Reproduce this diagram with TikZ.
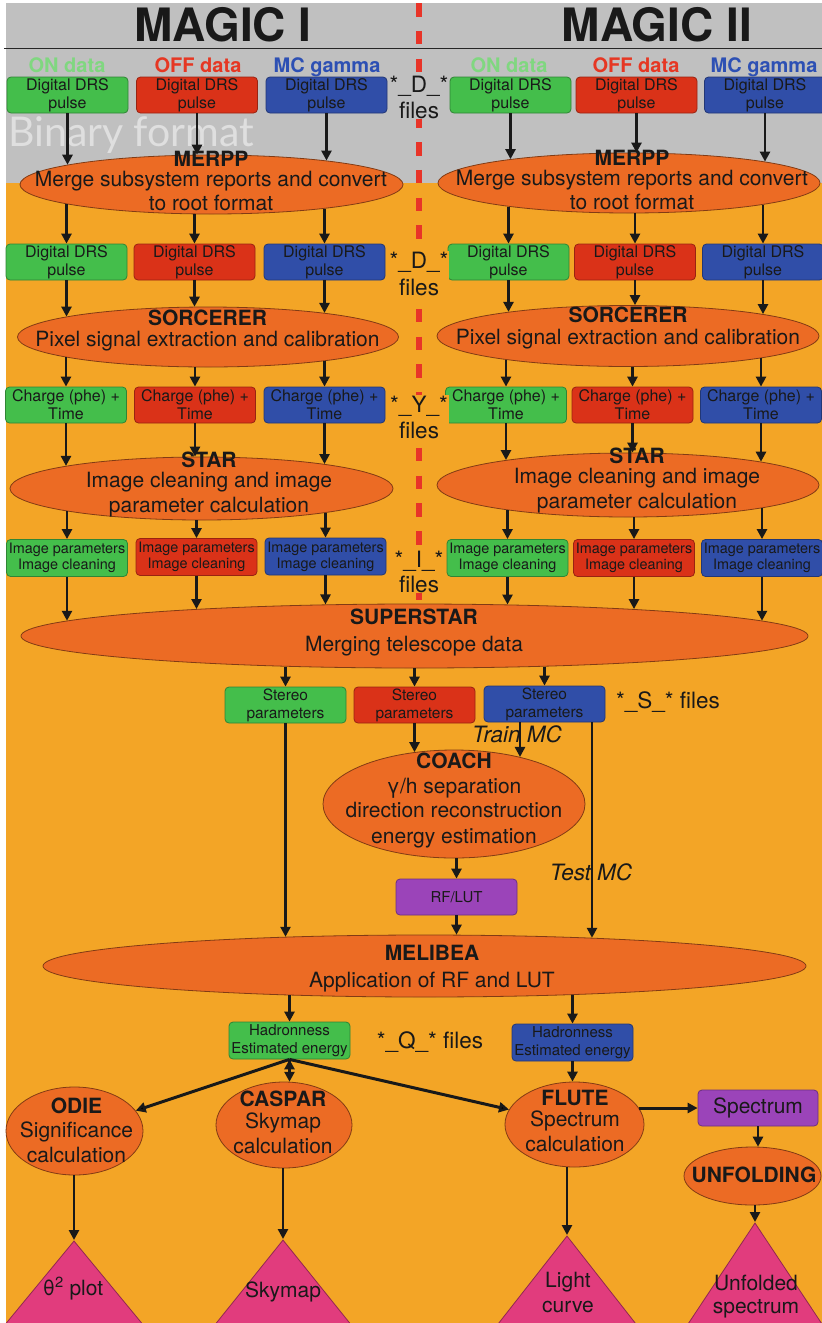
\documentclass[tikz,border=0pt]{standalone}
\usepackage{fontspec}
\setmainfont{TeX Gyre Heros}
\newfontfamily\binfont{Lato}
\usetikzlibrary{positioning,shapes.geometric,arrows.meta,calc}

\definecolor{bggray}{RGB}{192,192,192}
\definecolor{bgorange}{RGB}{243,165,38}
\definecolor{procorange}{RGB}{236,107,36}
\definecolor{ongreen}{RGB}{68,190,75}
\definecolor{offred}{RGB}{218,50,24}
\definecolor{mcblue}{RGB}{48,78,168}
\definecolor{rfpurple}{RGB}{155,68,185}
\definecolor{respink}{RGB}{225,60,125}
\definecolor{onlight}{RGB}{128,215,128}
\definecolor{offhead}{RGB}{230,55,35}
\definecolor{mchead}{RGB}{45,80,180}
\definecolor{magicred}{RGB}{232,52,40}

\tikzset{box/.style={rectangle,rounded corners=4pt,draw,line width=0.8pt,minimum width=121pt,minimum height=36pt,inner sep=0pt,align=center,text=black!90,font=\fontsize{16}{18}\selectfont},
on box/.style={box,fill=ongreen,draw=ongreen!70!black},
off box/.style={box,fill=offred,draw=offred!70!black},
mc box/.style={box,fill=mcblue,draw=mcblue!70!black},
rf box/.style={box,fill=rfpurple,draw=rfpurple!70!black},
proc node/.style={ellipse,fill=procorange,draw=procorange!55!black,line width=0.8pt,inner sep=0pt},
proc text/.style={anchor=base,align=center,inner sep=0pt,text=black!90,font=\fontsize{21}{24}\selectfont},
res node/.style={isosceles triangle,isosceles triangle stretches,shape border rotate=90,anchor=apex,fill=respink,draw=respink!65!black,line width=0.8pt,inner sep=0pt},
files label/.style={anchor=base,align=center,inner sep=1pt,text=black!90,font=\fontsize{22.5}{26}\selectfont},
head/.style={anchor=base,inner sep=0pt,font=\bfseries\fontsize{20}{24}\selectfont},
arr/.style={-{Triangle[length=10pt,width=10pt]},line width=2.5pt,draw=black!90},
}

% arrow into / out of an ellipse, vertical, ending on its border
\newcommand\arrin[3][]{\draw[arr,#1] let \p1=(#2),\p2=(#3.center),\p3=(#3.east),\p4=(#3.north) in (\p1) -- (\x1,{\y2+(\y4-\y2)*sqrt(1-((\x1-\x2)/(\x3-\x2))^2)});}
\newcommand\arrout[3][]{\draw[arr,#1] let \p1=(#3),\p2=(#2.center),\p3=(#2.east),\p4=(#2.north) in (\x1,{\y2-(\y4-\y2)*sqrt(1-((\x1-\x2)/(\x3-\x2))^2)}) -- (\p1);}

\begin{document}
\begin{tikzpicture}[x=1pt,y=-1pt]
\useasboundingbox (0,0) rectangle (822,1323);
\fill[bggray] (6,3) rectangle (822,183);
\fill[bgorange] (6,183) rectangle (822,1323);
\draw[line width=1.5pt,black!85] (4,48.5) -- (822,48.5);
\draw[magicred,line width=6pt,dash pattern=on 13.5pt off 14.3pt] (419,3) -- (419,600);
\node[anchor=base west,inner sep=0pt,text=white!50!bggray,font=\binfont\fontsize{41}{44}\selectfont] (binary) at (8,146) {Binary format};

% titles
\node[font=\bfseries\fontsize{46}{50}\selectfont,text=black!90] (magic1) at (223,25) {MAGIC I};
\node[font=\bfseries\fontsize{46}{50}\selectfont,text=black!90] (magic2) at (657,25) {MAGIC II};
\node[head,text=onlight] (on1) at (67,72) {ON data};
\node[head,text=offhead] (off1) at (198,72) {OFF data};
\node[head,text=mchead] (mc1) at (327,72) {MC gamma};
\node[head,text=onlight] (on2) at (509,72) {ON data};
\node[head,text=offhead] (off2) at (636,72) {OFF data};
\node[head,text=mchead] (mc2) at (764,72) {MC gamma};

% raw data
\node[on box] (don1) at (67.5,95) {Digital DRS\\pulse};
\node[off box] (doff1) at (197,95) {Digital DRS\\pulse};
\node[mc box] (dmc1) at (326.5,95) {Digital DRS\\pulse};
\node[on box] (don2) at (510.5,95) {Digital DRS\\pulse};
\node[off box] (doff2) at (636.5,95) {Digital DRS\\pulse};
\node[mc box] (dmc2) at (765,95) {Digital DRS\\pulse};
\node[files label,fill=bggray] (dfiles1) at (419,118) {*\_D\_*\\files};

\node[proc node,minimum width=383pt,minimum height=59pt] (merpp1) at (211.5,184.5) {};
\node[proc node,minimum width=382pt,minimum height=60pt] (merpp2) at (629,183) {};
\node[proc text] (merpp1t) at (211,210) {\textbf{MERPP}\\[-4pt]Merge subsystem reports and convert\\to root format};
\node[proc text] (merpp2t) at (632,209) {\textbf{MERPP}\\[-4pt]Merge subsystem reports and convert\\to root format};

% root files
\node[on box] (ron1) at (66.5,262) {Digital DRS\\pulse};
\node[off box] (roff1) at (194.5,262) {Digital DRS\\pulse};
\node[mc box] (rmc1) at (324.5,262) {Digital DRS\\pulse};
\node[on box] (ron2) at (508.5,262) {Digital DRS\\pulse};
\node[off box] (roff2) at (635,262) {Digital DRS\\pulse};
\node[mc box] (rmc2) at (763,262) {Digital DRS\\pulse};
\node[files label,fill=bgorange] (dfiles2) at (419,295) {*\_D\_*\\[1pt]files};

\node[proc node,minimum width=381pt,minimum height=60pt] (sorc1) at (208,337) {};
\node[proc node,minimum width=382pt,minimum height=61pt] (sorc2) at (628,336) {};
\node[proc text] (sorc1t) at (207.5,346) {\textbf{SORCERER}\\[-3pt]Pixel signal extraction and calibration};
\node[proc text] (sorc2t) at (628,344) {\textbf{SORCERER}\\[-2pt]Pixel signal extraction and calibration};

% calibrated
\node[on box] (yon1) at (66,405) {Charge (phe) +\\Time};
\node[off box] (yoff1) at (195,405) {Charge (phe) +\\Time};
\node[mc box] (ymc1) at (324.5,405) {Charge (phe) +\\Time};
\node[on box] (yon2) at (506,405) {Charge (phe) +\\Time};
\node[off box] (yoff2) at (632.5,405) {Charge (phe) +\\Time};
\node[mc box] (ymc2) at (761,405) {Charge (phe) +\\Time};
\node[files label,fill=bgorange] (yfiles) at (419,438) {*\_Y\_*\\files};

\node[proc node,minimum width=383pt,minimum height=63pt] (star1) at (201.5,488.5) {};
\node[proc node,minimum width=382pt,minimum height=64pt] (star2) at (628,485) {};
\node[proc text] (star1t) at (209,512) {\textbf{STAR}\\[-4pt]Image cleaning and image\\[1pt]parameter calculation};
\node[proc text] (star2t) at (637,508) {\textbf{STAR}\\[-4pt]Image cleaning and image\\[1pt]parameter calculation};

% image parameters
\node[on box,minimum height=37pt,font=\fontsize{14.4}{16}\selectfont] (ion1) at (67,558) {Image parameters\\Image cleaning};
\node[off box,minimum height=37pt,font=\fontsize{14.4}{16}\selectfont] (ioff1) at (196.5,557) {Image parameters\\Image cleaning};
\node[mc box,minimum height=37pt,font=\fontsize{14.4}{16}\selectfont] (imc1) at (325.5,556.5) {Image parameters\\Image cleaning};
\node[on box,minimum height=37pt,font=\fontsize{14.4}{16}\selectfont] (ion2) at (507.5,558) {Image parameters\\Image cleaning};
\node[off box,minimum height=37pt,font=\fontsize{14.4}{16}\selectfont] (ioff2) at (634,558) {Image parameters\\Image cleaning};
\node[mc box,minimum height=37pt,font=\fontsize{14.4}{16}\selectfont] (imc2) at (762,558) {Image parameters\\Image cleaning};
\node[files label,fill=bgorange] (ifiles) at (419,592) {*\_I\_*\\[-1pt]files};

\node[proc node,minimum width=787pt,minimum height=64pt] (sstar) at (414.5,636) {};
\node[proc text] (sstart) at (414,651) {\textbf{SUPERSTAR}\\[3pt]Merging telescope data};

% stereo
\node[on box,font=\fontsize{15.5}{18}\selectfont] (son) at (285.5,705) {Stereo\\parameters};
\node[off box,font=\fontsize{15.5}{18}\selectfont] (soff) at (414.5,705) {Stereo\\parameters};
\node[mc box,font=\fontsize{15.5}{18}\selectfont] (smc) at (544.5,704) {Stereo\\parameters};
\node[files label] (sfiles) at (668,708) {*\_S\_* files};
\node[files label,font=\itshape\fontsize{22.5}{26}\selectfont] (train) at (517,742) {Train MC};

\node[proc node,minimum width=262pt,minimum height=108pt] (coach) at (454,804) {};
\node[proc text] (coacht) at (454,843) {\textbf{COACH}\\[1pt]γ/h separation\\direction reconstruction\\[2pt]energy estimation};
\node[files label,font=\itshape\fontsize{22.5}{26}\selectfont] (test) at (591,880) {Test MC};
\node[rf box,font=\fontsize{15}{18}\selectfont] (rflut) at (456.5,897) {RF/LUT};

\node[proc node,minimum width=763pt,minimum height=62pt] (melibea) at (424.5,966) {};
\node[proc text] (melibeat) at (432,987) {\textbf{MELIBEA}\\[3pt]Application of RF and LUT};

% Q files
\node[on box,minimum height=37pt,font=\fontsize{15}{18}\selectfont] (qon) at (289.5,1040.5) {Hadronness\\Estimated energy};
\node[mc box,minimum height=37pt,font=\fontsize{15}{18}\selectfont] (qmc) at (572.5,1042.5) {Hadronness\\Estimated energy};
\node[files label] (qfiles) at (430,1048) {*\_Q\_* files};

\node[proc node,minimum width=137pt,minimum height=88pt] (odie) at (74.5,1131) {};
\node[proc node,minimum width=136pt,minimum height=86pt] (caspar) at (284,1125) {};
\node[proc node,minimum width=139pt,minimum height=85pt] (flute) at (574.5,1124.5) {};
\node[proc node,minimum width=137pt,minimum height=58pt] (unfold) at (752.5,1176) {};
\node[proc text] (odiet) at (76.5,1162) {\textbf{ODIE}\\Significance\\[1pt]calculation};
\node[proc text] (caspart) at (283,1153) {\textbf{CASPAR}\\[-2pt]Skymap\\[1pt]calculation};
\node[proc text] (flutet) at (575,1151) {\textbf{FLUTE}\\[-3pt]Spectrum\\[1pt]calculation};
\node[proc text] (unfoldt) at (754,1182) {\textbf{UNFOLDING}};
\node[rf box,minimum width=120pt,font=\fontsize{21}{24}\selectfont] (spec) at (758,1108) {Spectrum};

% results
\node[res node,minimum height=83pt,minimum width=137pt] (theta) at (74,1240) {};
\node[res node,minimum height=84pt,minimum width=135pt] (skymap) at (283,1239) {};
\node[res node,minimum height=88pt,minimum width=138pt] (lcurve) at (567,1235) {};
\node[res node,minimum height=101pt,minimum width=134pt] (unfspec) at (755,1222) {};
\node[proc text] (thetat) at (73,1295) {θ\textsuperscript{2} plot};
\node[proc text] (skymapt) at (283,1297) {Skymap};
\node[proc text] (lcurvet) at (568,1312) {Light\\[1pt]curve};
\node[proc text] (unfspect) at (756,1313) {Unfolded\\[-1pt]spectrum};

% arrows
\arrin{don1.south}{merpp1} \arrin{doff1.south}{merpp1} \arrin{dmc1.south}{merpp1}
\arrin{don2.south}{merpp2} \arrin{doff2.south}{merpp2} \arrin{dmc2.south}{merpp2}
\arrout{merpp1}{ron1.north} \arrout{merpp1}{roff1.north} \arrout{merpp1}{rmc1.north}
\arrout{merpp2}{ron2.north} \arrout{merpp2}{roff2.north} \arrout{merpp2}{rmc2.north}
\arrin{ron1.south}{sorc1} \arrin{roff1.south}{sorc1} \arrin{rmc1.south}{sorc1}
\arrin{ron2.south}{sorc2} \arrin{roff2.south}{sorc2} \arrin{rmc2.south}{sorc2}
\arrout{sorc1}{yon1.north} \arrout{sorc1}{yoff1.north} \arrout{sorc1}{ymc1.north}
\arrout{sorc2}{yon2.north} \arrout{sorc2}{yoff2.north} \arrout{sorc2}{ymc2.north}
\arrin{yon1.south}{star1} \arrin{yoff1.south}{star1} \arrin{ymc1.south}{star1}
\arrin{yon2.south}{star2} \arrin{yoff2.south}{star2} \arrin{ymc2.south}{star2}
\arrout{star1}{ion1.north} \arrout{star1}{ioff1.north} \arrout{star1}{imc1.north}
\arrout{star2}{ion2.north} \arrout{star2}{ioff2.north} \arrout{star2}{imc2.north}
\arrin{ion1.south}{sstar} \arrin{ioff1.south}{sstar} \arrin{imc1.south}{sstar}
\arrin{ion2.south}{sstar} \arrin{ioff2.south}{sstar} \arrin{imc2.south}{sstar}
\arrout{sstar}{son.north} \arrout{sstar}{soff.north} \arrout{sstar}{smc.north}
\arrin{soff.south}{coach} \arrin{$(smc.south)+(-24.5,0)$}{coach}
\arrin{son.south}{melibea} \arrin{$(smc.south)+(47.5,0)$}{melibea}
\arrout{coach}{rflut.north} \arrin{rflut.south}{melibea}
\arrout{melibea}{qon.north} \arrout{melibea}{qmc.north}
\path[draw,arr,line width=3pt]
(qon.south) edge (odie)
(qon.south) edge (flute);
\arrin[line width=3pt]{qon.south}{caspar}
\arrin{qmc.south}{flute}
\draw[arr,line width=3pt,shorten <=-5pt] (spec.west -| flute.east) -- (spec.west);
\arrin{spec.south}{unfold}
\arrout{unfold}{unfspec.apex}
\arrout{odie}{theta.apex} \arrout{caspar}{skymap.apex} \arrout{flute}{lcurve.apex}
\end{tikzpicture}
\end{document}
